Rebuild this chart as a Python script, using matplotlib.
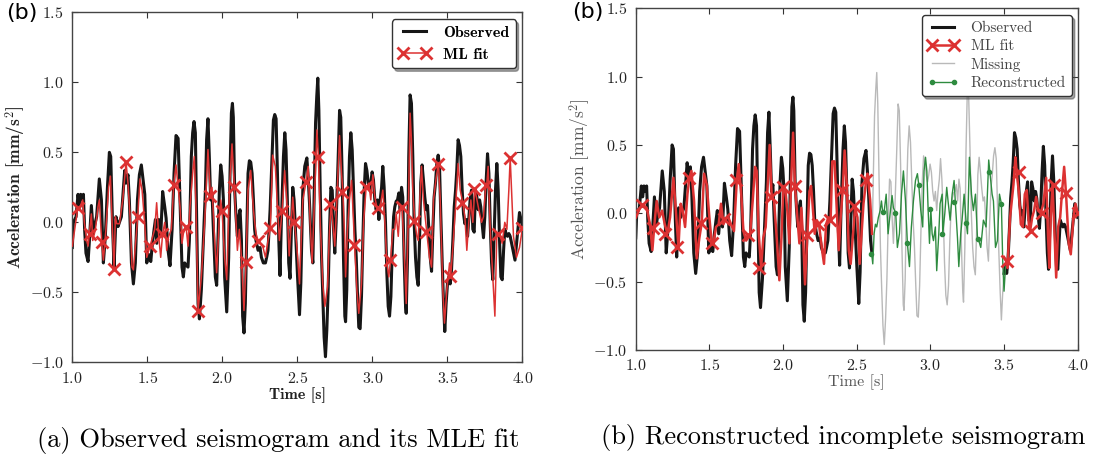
import numpy as np
import matplotlib
matplotlib.use("Agg")
import matplotlib.pyplot as plt
from matplotlib.lines import Line2D

plt.rcParams["font.family"] = "cmr10"
plt.rcParams["mathtext.fontset"] = "cm"
plt.rcParams["axes.formatter.use_mathtext"] = True

# observed seismogram (same record in both panels)
obs_t = [1.000, 1.007, 1.025, 1.038, 1.047, 1.056, 1.065, 1.074, 1.082, 1.091, 1.105, 1.114,
         1.127, 1.140, 1.149, 1.162, 1.180, 1.194, 1.207, 1.220, 1.234, 1.247, 1.256, 1.269,
         1.278, 1.291, 1.305, 1.314, 1.327, 1.340, 1.349, 1.358, 1.371, 1.380, 1.394, 1.407,
         1.420, 1.434, 1.447, 1.460, 1.469, 1.483, 1.496, 1.509, 1.523, 1.532, 1.545, 1.554,
         1.563, 1.576, 1.589, 1.602, 1.616, 1.625, 1.638, 1.651, 1.665, 1.678, 1.691, 1.705,
         1.718, 1.731, 1.740, 1.749, 1.762, 1.771, 1.780, 1.793, 1.802, 1.811, 1.820, 1.829,
         1.838, 1.847, 1.860, 1.873, 1.887, 1.895, 1.904, 1.913, 1.922, 1.931, 1.940, 1.953,
         1.962, 1.971, 1.980, 1.989, 1.998, 2.007, 2.015, 2.029, 2.042, 2.051, 2.060, 2.067,
         2.073, 2.082, 2.091, 2.100, 2.109, 2.118, 2.127, 2.135, 2.144, 2.153, 2.162, 2.171,
         2.180, 2.189, 2.198, 2.207, 2.215, 2.224, 2.238, 2.251, 2.260, 2.273, 2.287, 2.295,
         2.304, 2.318, 2.331, 2.340, 2.349, 2.358, 2.367, 2.376, 2.384, 2.393, 2.407, 2.416,
         2.424, 2.433, 2.442, 2.451, 2.456, 2.469, 2.478, 2.487, 2.501, 2.514, 2.523, 2.536,
         2.549, 2.563, 2.572, 2.581, 2.594, 2.603, 2.612, 2.621, 2.629, 2.636, 2.643, 2.652,
         2.661, 2.669, 2.678, 2.687, 2.696, 2.705, 2.714, 2.723, 2.732, 2.741, 2.749, 2.758,
         2.772, 2.781, 2.789, 2.798, 2.807, 2.816, 2.821, 2.829, 2.838, 2.847, 2.856, 2.865,
         2.874, 2.883, 2.892, 2.901, 2.909, 2.918, 2.927, 2.936, 2.945, 2.954, 2.963, 2.972,
         2.981, 2.989, 2.998, 3.007, 3.016, 3.025, 3.034, 3.043, 3.052, 3.061, 3.069, 3.078,
         3.087, 3.096, 3.105, 3.114, 3.123, 3.132, 3.141, 3.149, 3.158, 3.167, 3.176, 3.185,
         3.194, 3.202, 3.211, 3.220, 3.225, 3.234, 3.242, 3.251, 3.260, 3.269, 3.278, 3.287,
         3.296, 3.305, 3.314, 3.322, 3.331, 3.340, 3.349, 3.358, 3.367, 3.376, 3.385, 3.394,
         3.402, 3.411, 3.420, 3.429, 3.438, 3.447, 3.456, 3.465, 3.474, 3.482, 3.491, 3.500,
         3.509, 3.518, 3.527, 3.536, 3.545, 3.554, 3.562, 3.571, 3.580, 3.589, 3.598, 3.607,
         3.616, 3.625, 3.634, 3.642, 3.651, 3.660, 3.669, 3.678, 3.687, 3.696, 3.705, 3.714,
         3.722, 3.731, 3.740, 3.749, 3.758, 3.767, 3.776, 3.785, 3.794, 3.802, 3.811, 3.820,
         3.829, 3.838, 3.847, 3.856, 3.865, 3.874, 3.882, 3.891, 3.900, 3.909, 3.918, 3.950,
         3.980, 4.000]
obs_v = [-0.18, 0.00, 0.04, 0.20, 0.12, 0.20, 0.16, 0.20, -0.05, -0.22, -0.28, -0.13,
         0.12, -0.08, -0.02, 0.04, 0.31, 0.16, -0.29, -0.10, 0.25, 0.50, 0.47, -0.05,
         -0.32, 0.04, -0.03, 0.00, 0.04, 0.23, 0.37, 0.28, 0.34, 0.16, -0.29, -0.44,
         -0.29, 0.16, 0.34, 0.41, 0.33, 0.20, -0.29, -0.23, -0.28, -0.17, -0.05, 0.02,
         -0.15, 0.02, -0.10, 0.22, 0.11, 0.03, -0.20, -0.31, -0.05, 0.35, 0.62, 0.60,
         0.15, -0.32, -0.39, -0.29, -0.31, -0.32, -0.13, 0.47, 0.64, 0.72, 0.64, 0.00,
         -0.58, -0.69, -0.48, -0.13, 0.23, 0.59, 0.74, 0.47, 0.16, 0.21, -0.05, -0.39,
         -0.45, -0.12, 0.23, 0.41, 0.33, 0.16, -0.39, -0.64, -0.25, 0.35, 0.78, 0.85,
         0.75, 0.23, 0.04, -0.10, 0.04, 0.09, -0.13, -0.67, -0.79, -0.58, -0.13, 0.35,
         0.44, 0.43, 0.35, 0.16, -0.05, -0.13, -0.20, -0.18, -0.25, -0.29, -0.29, -0.25,
         -0.20, 0.09, 0.47, 0.73, 0.77, 0.74, 0.35, -0.13, -0.38, 0.00, 0.47, 0.64,
         0.52, 0.16, -0.29, -0.40, -0.20, 0.25, 0.16, -0.05, -0.39, -0.66, -0.43, 0.23,
         0.40, 0.46, 0.32, 0.13, -0.20, -0.29, 0.23, 0.71, 0.90, 1.03, 0.80, 0.23,
         -0.25, -0.53, -0.82, -0.96, -0.77, -0.48, -0.05, 0.25, 0.23, -0.05, -0.22, 0.00,
         0.47, 0.80, 0.75, 0.35, -0.25, -0.67, -0.71, -0.48, 0.11, 0.47, 0.64, 0.52,
         0.23, -0.05, -0.25, -0.53, -0.75, -0.76, -0.53, -0.13, 0.23, 0.42, 0.37, 0.28,
         0.23, 0.28, 0.36, 0.30, 0.16, 0.09, 0.16, 0.02, 0.16, 0.25, 0.40, 0.25,
         0.00, -0.36, -0.60, -0.67, -0.53, -0.20, 0.04, 0.11, 0.15, 0.16, 0.21, 0.09,
         0.25, 0.18, -0.25, -0.58, -0.65, -0.25, 0.47, 0.91, 0.85, 0.47, 0.00, -0.25,
         -0.39, -0.45, -0.13, 0.28, 0.41, 0.30, 0.18, 0.09, 0.12, -0.05, -0.25, -0.35,
         -0.08, 0.18, 0.28, 0.42, 0.48, 0.40, 0.04, -0.29, -0.58, -0.78, -0.58, -0.44,
         -0.39, -0.44, -0.34, -0.13, 0.11, 0.23, 0.37, 0.59, 0.55, 0.47, 0.23, 0.06,
         -0.01, 0.02, -0.10, 0.02, 0.16, 0.23, -0.05, -0.07, 0.23, 0.18, 0.09, 0.16,
         0.11, -0.01, -0.11, 0.04, 0.30, 0.49, 0.35, -0.01, -0.29, -0.41, -0.10, 0.23,
         0.42, 0.23, -0.13, -0.39, -0.41, -0.20, -0.05, -0.08, -0.10, -0.08, -0.10, -0.27,
         0.07, -0.03]

# ML fit of panel (a)
fit_a_t = [1.000, 1.036, 1.051, 1.069, 1.080, 1.096, 1.105, 1.114, 1.127, 1.136, 1.154, 1.171,
           1.180, 1.196, 1.207, 1.224, 1.242, 1.254, 1.265, 1.278, 1.287, 1.296, 1.314, 1.336,
           1.358, 1.371, 1.385, 1.398, 1.407, 1.420, 1.436, 1.451, 1.465, 1.482, 1.496, 1.518,
           1.536, 1.549, 1.562, 1.576, 1.589, 1.602, 1.616, 1.629, 1.642, 1.660, 1.676, 1.691,
           1.718, 1.731, 1.740, 1.758, 1.771, 1.784, 1.802, 1.813, 1.824, 1.838, 1.860, 1.882,
           1.904, 1.920, 1.931, 1.949, 1.962, 1.980, 1.989, 1.998, 2.015, 2.029, 2.047, 2.064,
           2.080, 2.100, 2.113, 2.127, 2.144, 2.158, 2.171, 2.189, 2.207, 2.224, 2.238, 2.251,
           2.269, 2.287, 2.304, 2.320, 2.335, 2.353, 2.367, 2.380, 2.398, 2.415, 2.429, 2.445,
           2.456, 2.469, 2.481, 2.496, 2.514, 2.536, 2.558, 2.572, 2.585, 2.598, 2.616, 2.630,
           2.640, 2.652, 2.669, 2.683, 2.701, 2.714, 2.725, 2.736, 2.749, 2.763, 2.781, 2.794,
           2.803, 2.816, 2.821, 2.834, 2.847, 2.861, 2.881, 2.896, 2.909, 2.927, 2.941, 2.958,
           2.976, 2.989, 3.003, 3.016, 3.029, 3.043, 3.056, 3.069, 3.083, 3.096, 3.109, 3.121,
           3.136, 3.149, 3.158, 3.172, 3.185, 3.198, 3.211, 3.225, 3.238, 3.251, 3.260, 3.269,
           3.282, 3.296, 3.305, 3.314, 3.327, 3.340, 3.362, 3.380, 3.394, 3.407, 3.425, 3.440,
           3.451, 3.469, 3.480, 3.496, 3.514, 3.522, 3.536, 3.554, 3.571, 3.585, 3.602, 3.616,
           3.629, 3.642, 3.656, 3.669, 3.682, 3.696, 3.709, 3.727, 3.740, 3.753, 3.762, 3.771,
           3.785, 3.802, 3.816, 3.829, 3.847, 3.865, 3.882, 3.896, 3.909, 3.918, 3.940, 3.960,
           3.980, 4.000]
fit_a_v = [-0.17, 0.10, 0.11, 0.16, 0.00, -0.13, -0.17, -0.08, 0.06, -0.13, -0.05, 0.11,
           0.16, -0.14, -0.27, -0.05, 0.25, 0.33, 0.00, -0.33, 0.04, -0.01, -0.01, 0.16,
           0.43, 0.28, 0.04, -0.32, -0.34, -0.17, 0.04, 0.31, 0.23, 0.00, -0.25, -0.17,
           -0.10, -0.05, 0.14, -0.10, -0.25, -0.08, 0.00, -0.20, -0.10, -0.05, 0.27, 0.41,
           0.11, -0.15, -0.08, -0.03, -0.17, 0.11, 0.35, 0.47, 0.11, -0.63, -0.39, 0.00,
           0.52, 0.19, 0.25, -0.13, -0.36, 0.04, 0.16, 0.08, -0.25, -0.41, 0.23, 0.56,
           0.25, -0.20, -0.05, -0.25, -0.63, -0.28, 0.23, 0.37, 0.09, -0.08, -0.13, -0.15,
           -0.17, -0.25, -0.13, -0.04, 0.48, 0.40, 0.11, -0.13, 0.08, 0.37, 0.16, -0.24,
           -0.05, 0.18, 0.00, -0.17, -0.44, 0.16, 0.29, 0.40, 0.00, -0.29, 0.23, 0.66,
           0.47, 0.00, -0.44, -0.60, -0.46, -0.06, 0.13, 0.00, -0.17, 0.16, 0.62, 0.35,
           0.22, -0.13, -0.39, -0.05, 0.16, 0.30, -0.16, -0.48, -0.65, -0.44, 0.00, 0.25,
           0.28, 0.16, 0.34, 0.18, 0.11, 0.10, 0.14, 0.23, 0.00, -0.29, -0.39, -0.27,
           -0.05, -0.05, 0.06, -0.10, 0.11, 0.11, -0.20, -0.58, 0.00, 0.78, 0.59, 0.23,
           0.01, -0.10, -0.13, 0.11, 0.40, 0.16, -0.07, -0.25, -0.32, 0.16, 0.32, 0.42,
           0.18, -0.48, -0.72, -0.48, -0.29, -0.38, -0.18, 0.11, 0.42, 0.23, 0.14, 0.04,
           -0.20, 0.00, 0.16, 0.00, 0.24, 0.16, 0.09, 0.00, 0.04, 0.23, 0.27, 0.40,
           -0.05, -0.39, -0.67, -0.08, -0.08, -0.15, 0.00, -0.05, 0.23, 0.46, -0.10, -0.25,
           -0.18, -0.04]

# ML fit of panel (b), only where the record is kept
fit_b_t = [1.002, 1.029, 1.052, 1.074, 1.097, 1.113, 1.127, 1.142, 1.160, 1.179, 1.197, 1.215,
           1.233, 1.256, 1.269, 1.290, 1.305, 1.319, 1.335, 1.351, 1.364, 1.378, 1.396, 1.414,
           1.432, 1.448, 1.464, 1.482, 1.500, 1.516, 1.527, 1.545, 1.563, 1.579, 1.595, 1.613,
           1.629, 1.647, 1.667, 1.686, 1.699, 1.715, 1.731, 1.749, 1.762, 1.776, 1.794, 1.810,
           1.821, 1.835, 1.851, 1.866, 1.882, 1.896, 1.909, 1.923, 1.939, 1.957, 1.975, 1.989,
           2.002, 2.016, 2.029, 2.043, 2.054, 2.068, 2.081, 2.097, 2.111, 2.124, 2.138, 2.149,
           2.165, 2.179, 2.190, 2.200, 2.215, 2.229, 2.244, 2.265, 2.278, 2.292, 2.308, 2.323,
           2.334, 2.350, 2.364, 2.378, 2.391, 2.405, 2.418, 2.432, 2.446, 2.459, 2.473, 2.489,
           2.505, 2.520, 2.546, 2.564, 2.573, 2.591, 2.604]
fit_b_v = [-0.03, 0.04, 0.06, 0.04, -0.08, -0.27, -0.08, 0.09, -0.03, 0.02, -0.08, -0.15,
           -0.03, 0.26, 0.07, -0.25, 0.07, 0.02, -0.10, 0.14, 0.26, 0.31, 0.09, -0.33,
           -0.18, -0.07, 0.29, 0.21, -0.03, -0.22, -0.22, -0.10, -0.08, 0.07, -0.08, -0.04,
           -0.03, -0.08, -0.13, 0.24, 0.36, 0.16, -0.13, -0.20, -0.18, -0.16, 0.09, 0.34,
           0.31, -0.15, -0.40, -0.18, -0.10, 0.21, 0.50, 0.12, 0.09, -0.18, -0.49, -0.18,
           0.19, 0.17, 0.02, -0.22, 0.21, 0.59, 0.20, -0.03, -0.22, 0.04, -0.22, -0.52,
           -0.16, 0.16, 0.20, 0.07, -0.15, -0.05, -0.08, -0.27, -0.37, -0.08, -0.03, -0.05,
           0.38, 0.38, 0.04, -0.27, -0.03, 0.17, 0.46, 0.21, -0.27, -0.37, -0.18, 0.04,
           -0.03, -0.37, 0.07, 0.24, 0.29, 0.10, -0.15]
fit_b2_t = [3.500, 3.514, 3.523, 3.541, 3.564, 3.577, 3.586, 3.600, 3.614, 3.627, 3.641, 3.654,
            3.668, 3.677, 3.691, 3.704, 3.718, 3.731, 3.749, 3.767, 3.786, 3.799, 3.808, 3.817,
            3.829, 3.840, 3.854, 3.867, 3.881, 3.894, 3.908, 3.921, 3.939, 3.953, 3.971, 3.985,
            4.000]
fit_b2_v = [-0.32, -0.35, -0.40, -0.03, 0.21, 0.41, 0.30, 0.16, -0.08, -0.10, 0.14, 0.17,
            -0.08, -0.13, -0.03, 0.02, 0.12, 0.02, 0.00, 0.07, 0.26, -0.18, -0.40, -0.03,
            0.21, -0.08, -0.47, -0.10, -0.03, 0.16, 0.34, 0.14, -0.22, -0.30, -0.03, 0.07,
            0.00]

# ML fit markers (every 0.08 s)
mk_t = [1.04, 1.12, 1.20, 1.28, 1.36, 1.44, 1.52, 1.60, 1.68, 1.76, 1.84, 1.92, 2.00,
        2.08, 2.16, 2.24, 2.32, 2.40, 2.48, 2.56, 2.64, 2.72, 2.80, 2.88, 2.96, 3.04,
        3.12, 3.20, 3.28, 3.36, 3.44, 3.52, 3.60, 3.68, 3.76, 3.84, 3.92, 4.00]
mk_a = [0.10, -0.08, -0.14, -0.33, 0.43, 0.04, -0.17, -0.08, 0.27, -0.03, -0.63, 0.19, 0.08,
        0.25, -0.28, -0.13, -0.04, 0.08, 0.00, 0.29, 0.47, 0.13, 0.22, -0.16, 0.25, 0.10,
        -0.27, 0.11, 0.01, -0.07, 0.42, -0.38, 0.14, 0.24, 0.27, -0.08, 0.46, -0.04]
mk_b = [0.06, -0.11, -0.15, -0.25, 0.26, -0.07, -0.22, -0.04, 0.24, -0.16, -0.40, 0.12, 0.19,
        0.20, -0.16, -0.08, -0.05, 0.17, 0.05, 0.24, None, None, None, None, None, None,
        None, None, None, None, None, -0.35, 0.30, -0.13, 0.00, 0.21, 0.15, 0.00]

# reconstruction of the missing stretch
rec_t = [2.602, 2.609, 2.618, 2.627, 2.636, 2.647, 2.659, 2.668, 2.677, 2.686, 2.700, 2.713,
         2.727, 2.740, 2.749, 2.765, 2.776, 2.790, 2.804, 2.817, 2.831, 2.844, 2.858, 2.871,
         2.885, 2.899, 2.912, 2.921, 2.935, 2.948, 2.957, 2.967, 2.976, 2.985, 2.994, 3.003,
         3.012, 3.021, 3.034, 3.043, 3.057, 3.066, 3.080, 3.084, 3.098, 3.111, 3.120, 3.134,
         3.148, 3.161, 3.170, 3.184, 3.193, 3.206, 3.215, 3.229, 3.243, 3.252, 3.265, 3.279,
         3.292, 3.306, 3.320, 3.329, 3.342, 3.360, 3.378, 3.387, 3.396, 3.405, 3.419, 3.428,
         3.442, 3.455, 3.469, 3.482, 3.491, 3.500, 3.510]
rec_v = [-0.30, -0.37, -0.15, -0.08, -0.10, -0.03, 0.02, 0.09, 0.00, 0.01, 0.14, -0.15,
         0.00, 0.13, 0.04, 0.00, -0.25, -0.15, 0.14, 0.31, 0.09, -0.22, -0.39, -0.10,
         0.09, 0.24, 0.29, 0.21, 0.02, -0.10, 0.31, 0.41, 0.31, 0.02, -0.22, 0.03,
         -0.15, -0.20, -0.10, -0.42, -0.15, 0.07, 0.14, -0.15, 0.00, 0.19, 0.09, -0.05,
         0.14, 0.24, 0.07, -0.18, -0.39, -0.15, -0.05, 0.14, -0.07, -0.15, 0.41, 0.14,
         0.02, 0.14, -0.19, -0.20, -0.25, -0.05, -0.10, 0.14, 0.39, 0.29, 0.14, 0.09,
         -0.25, -0.20, 0.14, 0.07, -0.35, -0.57, -0.39]
rec_mk_t = [2.60, 2.68, 2.76, 2.84, 2.92, 3.00, 3.08, 3.16, 3.24, 3.32, 3.40, 3.48]
rec_mk_v = [-0.30, 0.01, 0.00, -0.22, 0.21, 0.03, -0.15, 0.08, -0.07, -0.19, 0.30, 0.07]

gap_start, gap_end = 2.60, 3.50

BLACK = "#161616"
RED = "#dc3232"
GRAY = "#b9b9b9"
GREEN = "#2e8b3f"


def style_axes(ax, label_font, label_color):
    ax.set_xlim(1.0, 4.0)
    ax.set_ylim(-1.0, 1.5)
    ax.set_xticks([1.0, 1.5, 2.0, 2.5, 3.0, 3.5, 4.0])
    ax.set_yticks([-1.0, -0.5, 0.0, 0.5, 1.0, 1.5])
    ax.tick_params(direction="in", top=True, right=True, length=4, width=0.8,
                   labelsize=11.5, pad=6, colors="#333333", labelcolor="#222222")
    for s in ax.spines.values():
        s.set_color("#444444")
        s.set_linewidth(1.0)
    ax.set_xlabel("Time [s]", family=label_font, fontsize=11.5, color=label_color, labelpad=1)
    ax.set_ylabel("Acceleration [mm/s$^2$]", family=label_font, fontsize=12.5,
                  color=label_color, labelpad=1)


fig = plt.figure(figsize=(10.94, 4.66), dpi=100)
ax1 = fig.add_axes([0.0661, 0.2225, 0.4115, 0.751])
ax2 = fig.add_axes([0.5811, 0.249, 0.404, 0.7332])

obs_t = np.array(obs_t)
obs_v = np.array(obs_v)

# panel (a)
ax1.plot(obs_t, obs_v, color=BLACK, lw=2.2, zorder=2)
ax1.plot(fit_a_t, fit_a_v, color=RED, lw=1.1, zorder=3)
ax1.plot(mk_t, mk_a, ls="none", marker="x", ms=8, mew=2, color=RED, zorder=4)
style_axes(ax1, "cmb10", "#222222")
h1 = [Line2D([], [], color=BLACK, lw=2.2),
      Line2D([], [], color=RED, lw=1.1, marker="x", ms=8, mew=2)]
leg1 = ax1.legend(h1, ["Observed", "ML fit"], loc="upper right",
                  bbox_to_anchor=(0.985, 0.98), borderaxespad=0, shadow=True,
                  fancybox=True, prop={"family": "cmb10", "size": 11.5},
                  handlelength=2.0, numpoints=2, framealpha=1, edgecolor="#333333")

# panel (b)
keep1 = obs_t <= gap_start + 0.004
keep2 = obs_t >= gap_end
gap = (obs_t >= gap_start - 0.01) & (obs_t <= gap_end + 0.01)
ax2.plot(obs_t[gap], obs_v[gap], color=GRAY, lw=1.0, zorder=1)
ax2.plot(obs_t[keep1], obs_v[keep1], color=BLACK, lw=2.2, zorder=2)
ax2.plot(obs_t[keep2], obs_v[keep2], color=BLACK, lw=2.2, zorder=2)
ax2.plot(fit_b_t, fit_b_v, color=RED, lw=1.8, zorder=3)
ax2.plot(fit_b2_t, fit_b2_v, color=RED, lw=1.8, zorder=3)
mkb = np.array([np.nan if v is None else v for v in mk_b])
ax2.plot(mk_t, mkb, ls="none", marker="x", ms=8, mew=2, color=RED, zorder=4)
ax2.plot(rec_t, rec_v, color=GREEN, lw=1.0, zorder=3)
ax2.plot(rec_mk_t, rec_mk_v, ls="none", marker="o", ms=3, color=GREEN, zorder=3)
style_axes(ax2, "cmr10", "#555555")
h2 = [Line2D([], [], color=BLACK, lw=2.2),
      Line2D([], [], color=RED, lw=1.8, marker="x", ms=8, mew=2),
      Line2D([], [], color=GRAY, lw=1.0),
      Line2D([], [], color=GREEN, lw=1.0, marker="o", ms=3)]
leg2 = ax2.legend(h2, ["Observed", "ML fit", "Missing", "Reconstructed"], loc="upper right",
                  bbox_to_anchor=(0.987, 0.98), borderaxespad=0, shadow=True,
                  fancybox=True, prop={"family": "cmr10", "size": 11},
                  handlelength=2.0, numpoints=2, framealpha=1, edgecolor="#333333",
                  labelspacing=0.3)
for t in leg2.get_texts():
    t.set_color("#444444")

# panel tags and captions
fig.text(0.006, 0.993, "(b)", family="DejaVu Sans", fontsize=16, va="top", ha="left")
fig.text(0.523, 0.996, "(b)", family="DejaVu Sans", fontsize=16, va="top", ha="left")
fig.text(0.2547, 0.054, "(a) Observed seismogram and its MLE fit", fontsize=19,
         ha="center", va="center")
fig.text(0.771, 0.062, "(b) Reconstructed incomplete seismogram", fontsize=19,
         ha="center", va="center")

fig.savefig("out.png", dpi=100)
